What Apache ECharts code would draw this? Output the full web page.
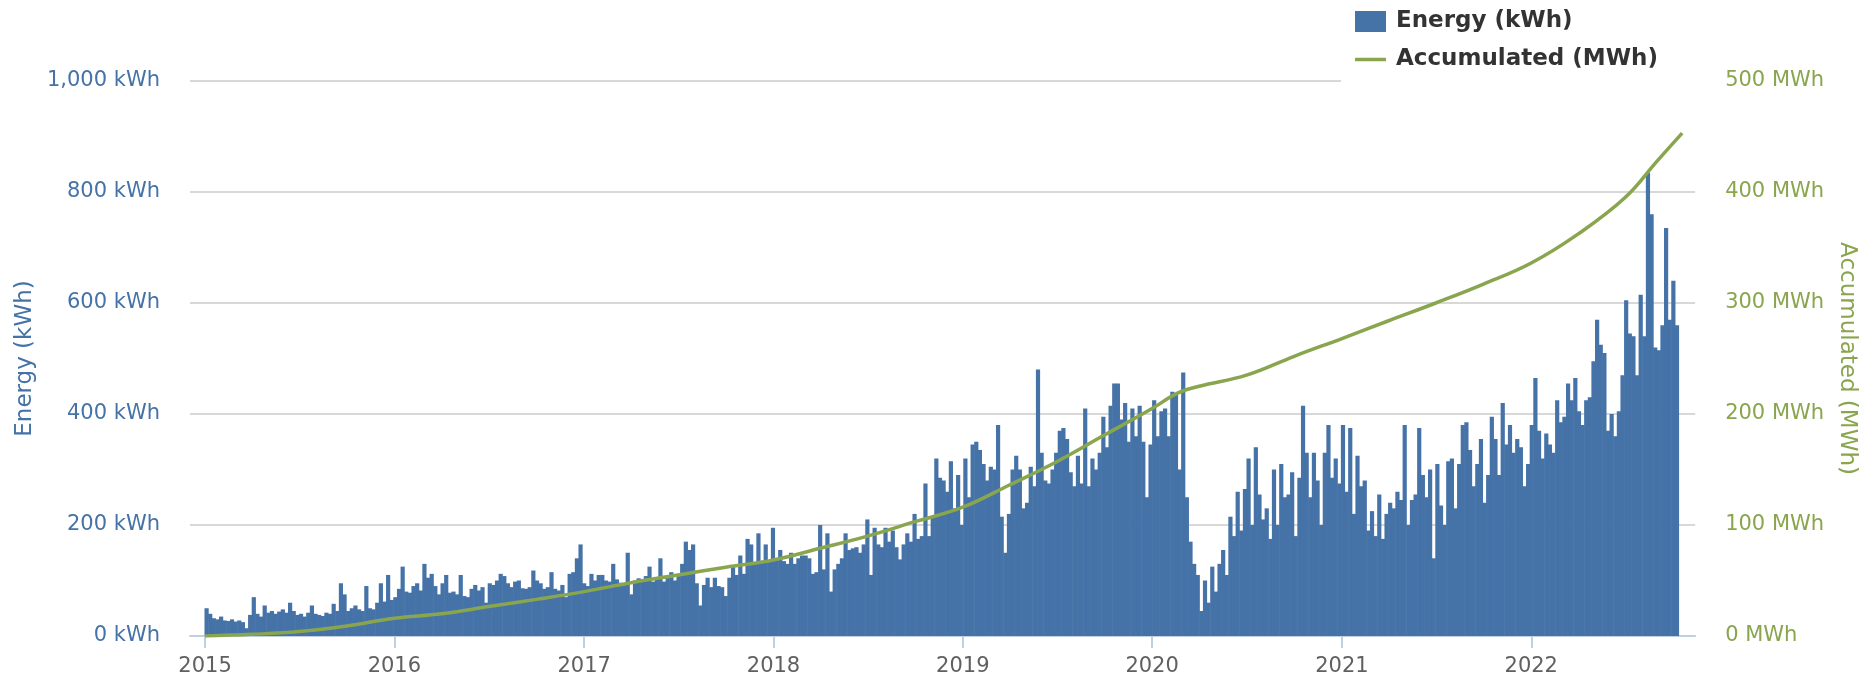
<!DOCTYPE html>
<html>
<head>
<meta charset="utf-8">
<title>Energy</title>
<script src="https://cdn.jsdelivr.net/npm/echarts@6/dist/echarts.min.js"></script>
<style>
  html, body { margin: 0; padding: 0; background: #fff; }
  #chart { width: 1866px; height: 677px; }
</style>
</head>
<body>
<div id="chart"></div>
<script>
  // weekly energy (kWh), first week starts 2015-01-01
  var firstWeek = '2015-01-04';
  var energy = [
    50, 40, 32, 30, 35, 28, 27, 30, 26, 28,
    25, 14, 38, 70, 40, 35, 55, 42, 45, 40,
    44, 48, 42, 60, 45, 38, 40, 35, 42, 55,
    40, 38, 36, 42, 40, 58, 45, 95, 75, 45,
    50, 55, 48, 45, 90, 50, 48, 60, 95, 62,
    110, 65, 70, 85, 125, 80, 78, 90, 95, 82,
    130, 105, 112, 90, 75, 95, 110, 78, 80, 75,
    110, 72, 70, 85, 92, 82, 88, 60, 95, 92,
    100, 112, 108, 95, 88, 98, 100, 86, 85, 88,
    118, 100, 95, 85, 88, 115, 85, 82, 92, 70,
    112, 115, 140, 165, 95, 90, 112, 100, 110, 110,
    100, 98, 130, 102, 96, 92, 150, 75, 100, 104,
    100, 108, 125, 98, 102, 140, 98, 105, 115, 100,
    108, 130, 170, 155, 165, 95, 55, 92, 105, 88,
    105, 90, 88, 72, 105, 125, 110, 145, 112, 175,
    165, 130, 185, 135, 165, 135, 195, 140, 155, 135,
    130, 150, 130, 140, 145, 145, 140, 112, 115, 200,
    120, 185, 80, 120, 130, 140, 185, 155, 158, 160,
    150, 165, 210, 110, 195, 165, 160, 195, 170, 190,
    160, 138, 165, 185, 170, 220, 175, 180, 275, 180,
    215, 320, 285, 280, 260, 315, 230, 290, 200, 320,
    250, 345, 350, 335, 310, 280, 305, 300, 380, 215,
    150, 220, 300, 325, 300, 230, 240, 305, 270, 480,
    330, 280, 275, 300, 330, 370, 375, 355, 295, 270,
    325, 275, 410, 270, 320, 300, 330, 395, 340, 415,
    455, 455, 390, 420, 350, 410, 360, 415, 350, 250,
    345, 425, 360, 405, 410, 360, 440, 435, 300, 475,
    250, 170, 130, 110, 45, 100, 60, 125, 80, 130,
    155, 110, 215, 180, 260, 190, 265, 320, 200, 340,
    255, 210, 230, 175, 300, 200, 310, 250, 255, 295,
    180, 285, 415, 330, 250, 330, 280, 200, 330, 380,
    285, 320, 275, 380, 260, 375, 220, 325, 270, 280,
    190, 225, 180, 255, 175, 220, 240, 230, 260, 245,
    380, 200, 245, 255, 375, 290, 250, 300, 140, 310,
    235, 200, 315, 320, 230, 310, 380, 385, 335, 270,
    310, 355, 240, 290, 395, 355, 290, 420, 345, 380,
    330, 355, 340, 270, 310, 380, 465, 370, 320, 365,
    345, 330, 425, 385, 395, 455, 425, 465, 405, 380,
    425, 430, 495, 570, 525, 510, 370, 400, 360, 405,
    470, 605, 545, 540, 470, 615, 540, 835, 760, 520,
    515, 560, 735, 570, 640, 560
  ];

  // accumulated total (MWh)
  var accDates = [
    '2015-01-01', '2015-04-01', '2015-07-01', '2015-10-01',
    '2016-01-01', '2016-04-01', '2016-07-01', '2016-10-01',
    '2017-01-01', '2017-04-01', '2017-07-01', '2017-10-01',
    '2018-01-01', '2018-04-01', '2018-07-01', '2018-10-01',
    '2019-01-01', '2019-04-01', '2019-07-01', '2019-10-01',
    '2020-01-01', '2020-02-20', '2020-04-01', '2020-07-01', '2020-10-01',
    '2021-01-01', '2021-04-01', '2021-07-01', '2021-10-01',
    '2022-01-01', '2022-04-01', '2022-07-01', '2022-09-01', '2022-10-19'
  ];
  var accMWh = [
    0, 1.5, 4, 9,
    16, 20, 26.5, 33,
    40, 48, 55, 62,
    68.5, 79, 90, 103,
    116, 136, 157, 181,
    205, 219, 225, 235, 252,
    268, 284, 300, 317,
    336, 362, 395, 428, 453
  ];

  var yearLabels = ['2015', '2016', '2017', '2018', '2019', '2020', '2021', '2022'];

  var DAY = 86400000;
  var t0 = Date.parse(firstWeek);
  var barData = energy.map(function (v, i) { return [t0 + i * 7 * DAY, v]; });
  var lineData = accDates.map(function (d, i) { return [Date.parse(d), accMWh[i]]; });
  var yearTicks = yearLabels.map(function (y) { return Date.parse(y + '-01-01'); });

  var font = 'DejaVu Sans';
  var blue = '#4572A7';
  var green = '#89A54E';

  var chart = echarts.init(document.getElementById('chart'));
  var option = {
    animation: false,
    grid: { left: 190, right: 168, top: 81, bottom: 41, containLabel: false },
    legend: {
      orient: 'vertical',
      left: 1341,
      top: 0,
      padding: [10, 42, 14, 14],
      itemGap: 15,
      itemWidth: 31,
      itemHeight: 21,
      backgroundColor: '#fff',
      textStyle: { fontFamily: font, fontSize: 23, fontWeight: 'bold', color: '#333', padding: [0, 0, 0, 5] },
      data: [
        { name: 'Energy (kWh)', icon: 'rect' },
        { name: 'Accumulated (MWh)', icon: 'path://M0,0 H31 V3.5 H0 Z' }
      ]
    },
    xAxis: {
      type: 'value',
      min: Date.parse('2014-12-03'),
      max: Date.parse('2022-11-13'),
      axisLine: { lineStyle: { color: '#C0D0E0', width: 2 } },
      axisTick: { show: true, length: 12, customValues: yearTicks, lineStyle: { color: '#C0D0E0', width: 2 } },
      axisLabel: {
        customValues: yearTicks,
        formatter: function (v) { return String(new Date(v).getUTCFullYear()); },
        color: '#606060', fontFamily: font, fontSize: 21, margin: 20
      },
      splitLine: { show: false }
    },
    yAxis: [
      {
        type: 'value', min: 0, max: 1000, interval: 200,
        name: 'Energy (kWh)', nameLocation: 'middle', nameGap: 152,
        nameTextStyle: { color: blue, fontFamily: font, fontSize: 23 },
        axisLabel: {
          color: blue, fontFamily: font, fontSize: 21, margin: 30,
          formatter: function (v) { return v.toLocaleString('en-US') + ' kWh'; }
        },
        axisLine: { show: false },
        axisTick: { show: false },
        splitLine: { lineStyle: { color: '#D8D8D8', width: 2 } }
      },
      {
        type: 'value', min: 0, max: 500, interval: 100, position: 'right',
        name: 'Accumulated (MWh)', nameLocation: 'middle', nameGap: 138, nameRotate: -90,
        nameTextStyle: { color: green, fontFamily: font, fontSize: 23 },
        axisLabel: {
          color: green, fontFamily: font, fontSize: 21, margin: 30,
          formatter: function (v) { return v + ' MWh'; }
        },
        axisLine: { show: false },
        axisTick: { show: false },
        splitLine: { show: false }
      }
    ],
    series: [
      {
        name: 'Energy (kWh)',
        type: 'bar',
        yAxisIndex: 0,
        barWidth: 4.2,
        itemStyle: { color: blue, borderWidth: 0 },
        data: barData
      },
      {
        name: 'Accumulated (MWh)',
        type: 'line',
        yAxisIndex: 1,
        smooth: 0.4,
        symbol: 'none',
        lineStyle: { color: green, width: 3.5 },
        itemStyle: { color: green },
        data: lineData
      }
    ]
  };
  chart.setOption(option);
</script>
</body>
</html>
